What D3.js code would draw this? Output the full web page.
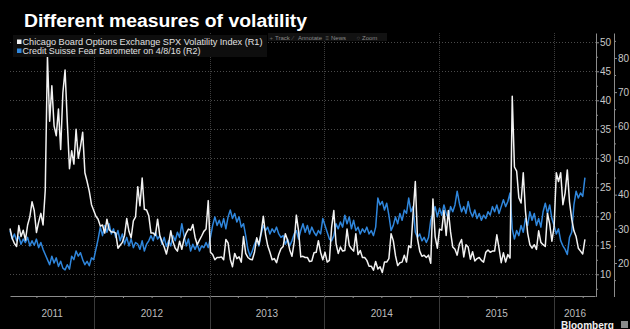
<!DOCTYPE html>
<html lang="en">
<head>
<meta charset="UTF-8">
<title>Different measures of volatility</title>
<script src="https://d3js.org/d3.v7.min.js"></script>
<style>
  body { margin: 0; background: #000; }
  svg { display: block; font-family: "Liberation Sans", Arial, sans-serif; }
  .axis path, .axis line { stroke: #8c8c8c; }
  .axis text { fill: #c8c8c8; font-size: 10px; font-family: "Liberation Sans", Arial, sans-serif; }
</style>
</head>
<body>
<svg id="chart" width="630" height="329"></svg>
<script>
// weekly readings, first one on 8 Apr 2011, one every 7 days up to 8 Apr 2016
const startDate = new Date(2011, 3, 8);

// Chicago Board Options Exchange SPX Volatility Index (R1)
const vix = [
  17.9, 16.2, 15.3, 14.8, 18.4, 16.5, 17.6, 15.9,
  18.5, 19.9, 22.5, 21.0,
  17.2, 19.0, 20.5, 18.5, 24.5,
  47.5,
  36.4, 42.5, 35.6, 33.9, 38.5, 31.5, 41.3,
  45.2,
  36.3, 28.2, 31.3, 29.0, 35.0, 30.0, 32.0, 34.5, 27.5, 26.0, 24.3, 22.0, 21.0,
  20.0, 19.5, 18.3, 18.5, 17.1, 19.5, 17.7, 17.3, 17.3, 17.1, 14.5, 15.0, 15.5,
  16.7, 19.6, 17.4, 16.3, 19.2, 19.9, 25.1, 21.8, 26.6, 21.2, 21.1, 20.1, 17.1, 17.1, 16.7, 19.5, 16.7,
  15.6, 14.7, 13.5, 15.2, 17.5, 15.6, 14.5, 14.0, 15.7, 14.3, 16.1, 17.1, 17.8, 17.6, 18.6, 16.4, 15.1, 15.9, 16.6, 17.4, 17.8, 22.7,
  13.8, 13.4, 12.5, 12.9, 12.9, 13.0, 12.5, 16.0, 15.4, 12.6, 11.3, 13.6, 12.7,
  13.0, 12.1, 16.5, 13.6, 12.9, 12.6, 12.5, 13.8, 16.3, 15.1, 17.2, 20.0, 16.9,
  14.9, 13.8, 12.5, 12.7, 12.0, 13.4, 14.4, 14.8, 17.0, 15.9, 14.2, 13.1, 15.5, 20.2, 17.5,
  13.0, 13.1, 12.9, 12.9, 12.2, 12.3, 13.7, 13.8, 15.8, 13.8, 12.5,
  13.8, 12.1, 12.4, 18.1, 21.0, 15.3, 13.6, 14.7, 14.0, 14.1, 17.8, 15.0, 14.4, 14.0, 17.0,
  13.4, 14.1, 12.9, 12.9, 12.4, 11.4, 11.4, 10.7, 12.2, 10.9, 11.3, 10.3, 12.1, 12.1, 12.7, 17.0,
  15.8, 13.2, 11.5, 12.0, 12.1, 13.3, 12.1, 14.9, 14.6, 20.5, 26.0, 16.1, 14.0, 13.1, 13.3, 12.9, 13.3, 11.9, 23.0, 16.5, 14.5,
  17.8, 17.6, 21.0, 16.7, 21.0, 17.3, 14.7, 14.3, 13.3, 15.2, 16.0, 13.0, 15.1, 14.7, 12.6, 13.9, 12.3, 12.7, 12.9, 12.4, 12.1, 13.8, 14.2, 13.8, 14.0, 14.0,
  16.8, 14.5, 12.0, 13.7, 12.1, 13.4, 12.8,
  40.7, 28.5, 27.8, 23.2, 22.3, 27.5, 20.9, 17.1, 15.1, 14.5, 15.1, 14.3, 17.5, 15.5, 15.1, 14.8, 20.5, 18.7, 15.7,
  18.2, 27.5, 26.0, 27.5, 22.0, 24.0, 28.0, 22.5, 19.5, 17.5, 16.5, 14.5, 14.0, 13.5, 16.0
];

// Credit Suisse Fear Barometer (R2)
const csfb = [
  29.5, 27.0, 28.5, 26.5, 27.8, 25.5, 27.0, 26.0, 27.5, 25.0, 26.5, 25.2, 27.0, 24.5, 26.0, 24.0,
  22.5, 21.0, 19.5, 22.0, 20.0, 21.5, 19.0, 20.5, 18.5, 18.0, 19.5, 18.2, 22.0, 21.0, 23.5, 22.0, 23.0, 21.0, 19.5, 20.5, 19.2, 21.5, 21.0,
  24.0, 27.0, 30.5, 28.0, 31.0, 29.0, 31.5, 28.5, 30.0, 27.5, 29.5,
  26.5, 28.5, 25.5, 27.5, 25.0, 27.0, 24.5, 26.0,
  25.5, 24.0, 26.5, 23.5, 25.5,
  26.5, 28.0, 26.5, 29.0, 27.0, 28.0,
  25.5, 27.5, 24.8, 26.5, 25.0,
  28.0, 26.5, 29.0, 27.5, 31.5, 28.0,
  25.0, 27.0, 23.5, 25.5,
  24.0, 25.5, 23.5, 25.0, 24.5,
  26.0, 24.5, 27.5, 31.0, 33.5, 31.0, 32.5, 30.5, 33.0, 30.0, 33.5, 35.5, 33.0, 34.5, 32.0, 33.5, 30.5, 31.5, 28.0, 24.0, 22.0,
  23.5, 25.5, 27.0, 25.0, 28.5, 31.0, 29.5, 30.5, 28.5, 30.0, 29.0, 30.5, 28.5, 27.5, 28.0, 25.5, 27.0, 25.0, 26.5, 28.5, 29.5, 27.0,
  29.5, 31.5, 29.0, 31.0, 28.5, 30.5, 29.0, 28.0, 29.5, 28.5, 33.0, 31.0, 29.0, 27.0, 26.5, 28.0, 31.5, 30.0, 32.0, 30.5, 34.0,
  31.5, 33.5, 30.0, 32.5, 29.5, 30.5, 28.5, 30.0, 29.0, 30.5, 28.5, 29.5, 28.0, 30.5, 39.0, 37.0, 38.0, 35.5, 37.5, 34.0, 29.5,
  31.0, 33.5, 31.5, 34.5, 32.5, 35.5, 34.5, 39.0, 35.0, 36.5, 29.0, 27.5, 28.5, 26.5, 27.5, 26.0, 27.5, 32.5, 34.5, 36.5, 33.5,
  36.0, 34.0, 37.0, 34.5, 33.0, 36.5, 35.0, 37.0, 41.0, 37.5, 35.0, 36.5, 34.5, 38.0, 35.0, 33.5, 35.5, 33.0, 34.5, 32.5, 34.0,
  33.0, 35.0, 34.0, 36.5, 35.0, 37.0, 34.5, 36.5, 38.5, 36.5, 38.0, 40.5, 30.0, 27.0, 29.5, 28.0, 31.0, 29.0, 33.0, 31.0, 35.0,
  32.5, 34.5, 31.0, 33.0, 30.5, 35.0, 37.5, 34.5, 37.0, 33.0, 31.0, 28.5, 30.0, 26.5, 25.0, 24.0, 22.5, 27.5, 29.0, 37.0, 41.0,
  39.0, 40.5, 39.5, 45.0
];

const years = [2011, 2012, 2013, 2014, 2015, 2016];
const r1Ticks = [10, 15, 20, 25, 30, 35, 40, 45, 50];
const r1Minor = [7.5, 12.5, 17.5, 22.5, 27.5, 32.5, 37.5, 42.5, 47.5];
const r2Ticks = [20, 30, 40, 50, 60, 70, 80];
const r2Minor = [15, 25, 35, 45, 55, 65, 75, 85];
const legendLabels = [
  "Chicago Board Options Exchange SPX Volatility Index  (R1)",
  "Credit Suisse Fear Barometer  on 4/8/16 (R2)"
];
const legendColors = ["#f2f2f2", "#2f86dc"];
const toolbarItems = ["Track", "Annotate", "News", "Zoom"];
const toolbarIcons = ["+", "\u2215", "\u2261", "\u25cb"];

const svg = d3.select("#chart");
const plotTop = 33, plotBottom = 296, plotLeft = 10, plotRight = 595;

const x = d3.scaleTime()
  .domain([new Date(2011, 3, 8), new Date(2016, 4, 10)])
  .range([plotLeft, plotRight]);
const yR1 = d3.scaleLinear().domain([6.17, 51.6]).range([plotBottom + 0.5, plotTop]);
const yR2 = d3.scaleLinear().domain([10.2, 87.3]).range([plotBottom + 0.5, plotTop]);
const dateAt = i => d3.timeDay.offset(startDate, 7 * i);

svg.append("rect").attr("width", 630).attr("height", 329).attr("fill", "#000");

// title
svg.append("text")
  .attr("x", 24).attr("y", 26.5)
  .attr("fill", "#fff")
  .attr("font-size", 18).attr("font-weight", "bold")
  .attr("textLength", 283).attr("lengthAdjust", "spacingAndGlyphs")
  .text("Different measures of volatility");

// horizontal dotted grid on R1 ticks
svg.append("g").selectAll("line")
  .data(r1Ticks)
  .enter().append("line")
  .attr("x1", plotLeft).attr("x2", plotRight + 1)
  .attr("y1", d => Math.round(yR1(d)) + 0.5)
  .attr("y2", d => Math.round(yR1(d)) + 0.5)
  .attr("stroke", "#4a4a4a").attr("stroke-dasharray", "1,2");

// vertical year grid
const yearStarts = years.slice(1).map(yr => new Date(yr, 0, 1));
svg.append("g").selectAll("line")
  .data(yearStarts)
  .enter().append("line")
  .attr("x1", d => Math.round(x(d)) + 0.5).attr("x2", d => Math.round(x(d)) + 0.5)
  .attr("y1", plotTop).attr("y2", plotBottom)
  .attr("stroke", "#3c3c3c").attr("stroke-dasharray", "1,1");

// series
const lineR2 = d3.line().x((d, i) => x(dateAt(i))).y(d => yR2(d));
const lineR1 = d3.line().x((d, i) => x(dateAt(i))).y(d => yR1(d));

svg.append("path").datum(csfb)
  .attr("d", lineR2).attr("fill", "none")
  .attr("stroke", legendColors[1]).attr("stroke-width", 1.5)
  .attr("stroke-linejoin", "round");

svg.append("path").datum(vix)
  .attr("d", lineR1).attr("fill", "none")
  .attr("stroke", legendColors[0]).attr("stroke-width", 1.5)
  .attr("stroke-linejoin", "round");

// legend
svg.append("rect")
  .attr("x", 13).attr("y", 35).attr("width", 254).attr("height", 22)
  .attr("fill", "#0e0e0e");
const legend = svg.append("g").selectAll("g")
  .data(legendLabels)
  .enter().append("g")
  .attr("transform", (d, i) => `translate(17,${39.5 + i * 9})`);
legend.append("rect")
  .attr("width", 4.5).attr("height", 4.5)
  .attr("fill", (d, i) => legendColors[i]);
legend.append("text")
  .attr("x", 5.5).attr("y", 5.5)
  .attr("fill", "#e0e0e0").attr("font-size", 9)
  .attr("textLength", (d, i) => i === 0 ? 240 : 178)
  .attr("lengthAdjust", "spacingAndGlyphs")
  .text(d => d);

// toolbar (faint)
svg.append("rect")
  .attr("x", 268).attr("y", 33).attr("width", 119).attr("height", 8)
  .attr("fill", "#121212");
const tbX = [275, 298, 331, 362];
const tb = svg.append("g").selectAll("g")
  .data(toolbarItems)
  .enter().append("g")
  .attr("transform", (d, i) => `translate(${tbX[i]},39.5)`);
tb.append("text").attr("x", -5.5).attr("font-size", 6).attr("fill", "#666")
  .text((d, i) => toolbarIcons[i]);
tb.append("text").attr("font-size", 6).attr("fill", "#8a8a8a").text(d => d);

// right axes
svg.append("g").attr("class", "axis")
  .attr("transform", "translate(596,0)")
  .call(d3.axisRight(yR1).tickValues(r1Ticks).tickSize(3).tickSizeOuter(0).tickPadding(1));
svg.append("g").attr("class", "axis")
  .attr("transform", "translate(596,0)")
  .call(d3.axisRight(yR1).tickValues(r1Minor).tickSize(2).tickFormat(""))
  .select(".domain").remove();

svg.append("g").attr("class", "axis")
  .attr("transform", "translate(614,0)")
  .call(d3.axisRight(yR2).tickValues(r2Ticks).tickSize(3).tickSizeOuter(0).tickPadding(1));
svg.append("g").attr("class", "axis")
  .attr("transform", "translate(614,0)")
  .call(d3.axisRight(yR2).tickValues(r2Minor).tickSize(2).tickFormat(""))
  .select(".domain").remove();

// bottom axis with quarter ticks
svg.append("g").attr("class", "axis")
  .attr("transform", `translate(0,${plotBottom})`)
  .call(d3.axisBottom(x).ticks(d3.timeMonth.every(3)).tickSize(2).tickSizeOuter(0).tickFormat(""));

// year separators and labels
svg.append("g").selectAll("line")
  .data(yearStarts)
  .enter().append("line")
  .attr("x1", d => Math.round(x(d)) + 0.5).attr("x2", d => Math.round(x(d)) + 0.5)
  .attr("y1", plotBottom).attr("y2", 329)
  .attr("stroke", "#3a3a3a");

svg.append("g").selectAll("text")
  .data(years)
  .enter().append("text")
  .attr("x", yr => {
    const a = Math.max(x(new Date(yr, 0, 1)), plotLeft);
    const b = Math.min(x(new Date(yr + 1, 0, 1)), 596);
    return (a + b) / 2;
  })
  .attr("y", 316.5)
  .attr("text-anchor", "middle")
  .attr("fill", "#bdbdbd").attr("font-size", 10)
  .text(yr => yr);

// source mark
svg.append("text")
  .attr("x", 561).attr("y", 328.5)
  .attr("fill", "#f0f0f0").attr("font-size", 10).attr("font-weight", "bold")
  .text("Bloomberg");
svg.append("rect")
  .attr("x", 621).attr("y", 321).attr("width", 7).attr("height", 7)
  .attr("fill", "#8a8a8a");
</script>
</body>
</html>
